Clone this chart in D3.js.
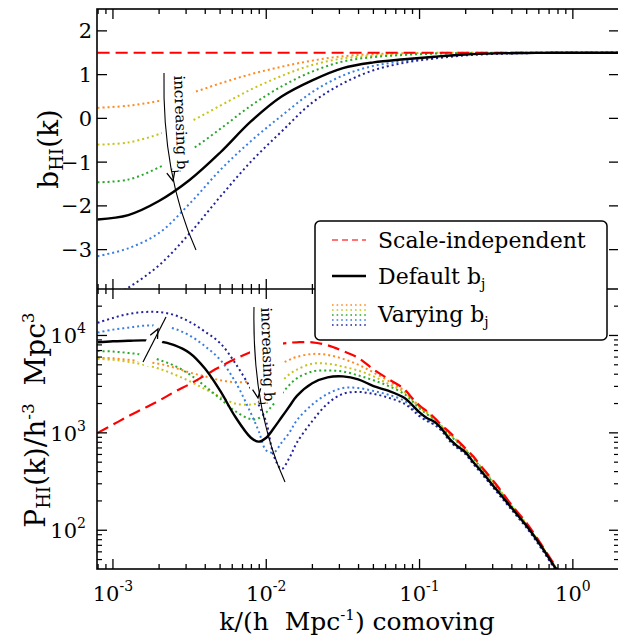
<!DOCTYPE html>
<html><head><meta charset="utf-8">
<script src="https://cdn.jsdelivr.net/npm/d3@7/dist/d3.min.js"></script>
<style>body{margin:0;background:#fff}svg{display:block}text{font-family:"DejaVu Serif",serif;fill:#000}</style>
</head><body><svg id="c" width="618" height="635"></svg>
<script>
// ---------- data ----------
// top panel: log10 k grid and b_HI(k)
const logkTop = [-3.1,-2.9,-2.7,-2.5,-2.3,-2.1,-1.9,-1.7,-1.5,-1.3,-1.1,-0.9,-0.7,-0.5,-0.3,-0.1,0.1,0.3];
const bScaleIndep = [1.5,1.5,1.5,1.5,1.5,1.5,1.5,1.5,1.5,1.5,1.5,1.5,1.5,1.5,1.5,1.5,1.5,1.5];
const bDefault = [-2.31,-2.21,-1.89,-1.41,-0.78,-0.07,0.50,0.87,1.15,1.28,1.35,1.41,1.46,1.485,1.495,1.5,1.5,1.5];
const bOrange  = [0.24,0.29,0.40,0.57,0.80,1.01,1.18,1.32,1.42,1.47,1.49,1.497,1.5,1.5,1.5,1.5,1.5,1.5];
const bYellow  = [-0.60,-0.55,-0.36,-0.08,0.29,0.66,0.97,1.22,1.37,1.43,1.47,1.49,1.497,1.5,1.5,1.5,1.5,1.5];
const bGreen   = [-1.46,-1.40,-1.12,-0.74,-0.24,0.29,0.73,1.07,1.30,1.40,1.45,1.48,1.49,1.497,1.5,1.5,1.5,1.5];
const bBlue    = [-3.15,-2.97,-2.62,-1.95,-1.18,-0.52,0.06,0.60,0.98,1.20,1.31,1.39,1.45,1.48,1.495,1.5,1.5,1.5];
const bNavy    = [-4.25,-3.87,-3.36,-2.63,-1.79,-0.99,-0.30,0.36,0.80,1.10,1.27,1.37,1.44,1.475,1.49,1.5,1.5,1.5];

// bottom panel: log10 k grid and log10 P_HI(k)
const logkBot = [-3.1,-3.0,-2.9,-2.8,-2.7,-2.6,-2.5,-2.4,-2.3,-2.2,-2.1,-2.05,-2.0,-1.95,-1.9,-1.85,-1.8,-1.7,-1.6,-1.5,-1.4,-1.3,-1.2,-1.1,-1.05,-1.0,-0.95,-0.9,-0.85,-0.8,-0.75,-0.7,-0.65,-0.6,-0.5,-0.4,-0.3,-0.2,-0.1,0.0];
const logPScaleIndep = [3.00,3.085,3.17,3.25,3.33,3.42,3.50,3.59,3.68,3.76,3.83,3.86,3.88,3.90,3.915,3.925,3.93,3.93,3.90,3.84,3.77,3.65,3.55,3.45,3.36,3.28,3.22,3.15,3.07,3.00,2.92,2.84,2.76,2.66,2.47,2.26,2.07,1.84,1.60,1.39];
const logPDefault = [3.93,3.94,3.945,3.95,3.94,3.90,3.82,3.66,3.43,3.16,2.95,2.91,2.95,3.05,3.16,3.27,3.38,3.51,3.57,3.58,3.55,3.48,3.43,3.36,3.29,3.21,3.15,3.11,3.03,2.93,2.86,2.80,2.70,2.61,2.42,2.23,2.04,1.82,1.58,1.37];
const logPOrange = [3.77,3.765,3.75,3.73,3.71,3.67,3.62,3.58,3.54,3.52,3.53,3.56,3.60,3.65,3.71,3.75,3.78,3.81,3.80,3.76,3.70,3.62,3.53,3.43,3.35,3.27,3.21,3.14,3.06,2.99,2.91,2.83,2.75,2.65,2.46,2.25,2.06,1.83,1.59,1.38];
const logPYellow = [3.76,3.75,3.73,3.70,3.66,3.60,3.53,3.45,3.37,3.30,3.29,3.31,3.37,3.45,3.53,3.60,3.65,3.71,3.71,3.68,3.64,3.58,3.50,3.42,3.34,3.26,3.20,3.14,3.06,2.98,2.91,2.83,2.75,2.65,2.46,2.25,2.06,1.83,1.59,1.38];
const logPGreen = [3.84,3.835,3.82,3.80,3.75,3.69,3.60,3.48,3.35,3.22,3.14,3.15,3.21,3.30,3.40,3.49,3.56,3.63,3.64,3.63,3.59,3.54,3.48,3.40,3.33,3.25,3.19,3.13,3.05,2.97,2.90,2.82,2.74,2.64,2.45,2.25,2.05,1.83,1.59,1.38];
const logPBlue = [4.03,4.06,4.08,4.10,4.10,4.07,4.00,3.89,3.75,3.52,3.20,3.02,2.82,2.80,2.90,3.00,3.13,3.29,3.40,3.46,3.46,3.43,3.39,3.33,3.26,3.19,3.13,3.09,3.02,2.92,2.85,2.79,2.69,2.60,2.41,2.22,2.03,1.81,1.57,1.36];
const logPNavy = [4.13,4.18,4.22,4.24,4.24,4.21,4.14,4.04,3.92,3.71,3.45,3.29,3.11,2.76,2.63,2.74,2.90,3.12,3.30,3.40,3.42,3.40,3.36,3.30,3.24,3.17,3.12,3.08,3.01,2.91,2.84,2.78,2.68,2.59,2.40,2.21,2.02,1.80,1.56,1.35];

const xMajor = [1e-3,1e-2,1e-1,1];
const xTickLabels = ["-3","-2","-1","0"];
const yTopTicks = [-3,-2,-1,0,1,2];
const yTopLabels = ["\u22123","\u22122","\u22121","0","1","2"];
const yBotMajor = [1e2,1e3,1e4];
const yBotLabels = ["2","3","4"];

const varyColors = ["#ff8a1e","#c8c31a","#2aa82a","#3a7ee0","#23239c"];
const varyTop = [bOrange,bYellow,bGreen,bBlue,bNavy];
const varyBot = [logPOrange,logPYellow,logPGreen,logPBlue,logPNavy];
const legendLabels = ["Scale-independent","Default b","Varying b"];

// ---------- layout ----------
const xL=97, xR=619, yT=9, yM=289, yB=569;
const svg = d3.select("#c");
const x = d3.scaleLog().domain([7.87e-4, 2.0]).range([xL, xR]);
const yTop = d3.scaleLinear().domain([-3.9, 2.5]).range([yM, yT]);
const yBot = d3.scaleLog().domain([40, 3e4]).range([yB, yM]);

const defs = svg.append("defs");
defs.append("clipPath").attr("id","cpT").append("rect").attr("x",xL).attr("y",yT).attr("width",xR-xL).attr("height",yM-yT);
defs.append("clipPath").attr("id","cpB").append("rect").attr("x",xL).attr("y",yM).attr("width",xR-xL).attr("height",yB-yM);

const topRows = vals => logkTop.map((l,i)=>({k:Math.pow(10,l), v:vals[i]}));
const botRows = vals => logkBot.map((l,i)=>({k:Math.pow(10,l), v:Math.pow(10,vals[i])}));
const lineT = d3.line().x(d=>x(d.k)).y(d=>yTop(d.v)).curve(d3.curveCatmullRom.alpha(0.5));
const lineB = d3.line().x(d=>x(d.k)).y(d=>yBot(d.v)).curve(d3.curveCatmullRom.alpha(0.5));

const gT = svg.append("g").attr("clip-path","url(#cpT)");
const gB = svg.append("g").attr("clip-path","url(#cpB)");

// varying (dotted)
varyTop.forEach((s,i)=>gT.append("path").attr("d",lineT(topRows(s))).attr("fill","none")
  .attr("stroke",varyColors[i]).attr("stroke-width",2).attr("stroke-dasharray","2,3"));
varyBot.forEach((s,i)=>gB.append("path").attr("d",lineB(botRows(s))).attr("fill","none")
  .attr("stroke",varyColors[i]).attr("stroke-width",2).attr("stroke-dasharray","2,3"));
// scale independent (red dashed)
gT.append("path").attr("d",lineT(topRows(bScaleIndep))).attr("fill","none").attr("stroke","#ff0000").attr("stroke-width",2.2).attr("stroke-dasharray","12,6");
gB.append("path").attr("d",lineB(botRows(logPScaleIndep))).attr("fill","none").attr("stroke","#ff0000").attr("stroke-width",2.2).attr("stroke-dasharray","12,6");

// white masks behind annotations
svg.append("rect").attr("x",162).attr("y",72).attr("width",31).attr("height",100).attr("fill","#fff");
svg.append("rect").attr("x",250).attr("y",304).attr("width",33).attr("height",98).attr("fill","#fff");
svg.append("line").attr("x1",143).attr("y1",364).attr("x2",166).attr("y2",317).attr("stroke","#fff").attr("stroke-width",15);

// default (black)
gT.append("path").attr("d",lineT(topRows(bDefault))).attr("fill","none").attr("stroke","#000").attr("stroke-width",2.4);
gB.append("path").attr("d",lineB(botRows(logPDefault))).attr("fill","none").attr("stroke","#000").attr("stroke-width",2.4);

// ---------- frame & ticks ----------
const ax = svg.append("g").attr("stroke","#000").attr("fill","none");
ax.append("rect").attr("x",xL).attr("y",yT).attr("width",xR-xL).attr("height",yB-yT).attr("stroke-width",1.6);
ax.append("line").attr("x1",xL).attr("x2",xR).attr("y1",yM).attr("y2",yM).attr("stroke-width",1.6);

const xMinor = [];
[-4,-3,-2,-1,0].forEach(e=>{for(let m=2;m<=9;m++){const v=m*Math.pow(10,e); if(v>x.domain()[0]&&v<x.domain()[1]) xMinor.push(v);}});
function xt(vals,len,y0,dir){vals.forEach(v=>ax.append("line").attr("x1",x(v)).attr("x2",x(v)).attr("y1",y0).attr("y2",y0+dir*len).attr("stroke-width",1.3));}
xt(xMajor,10,yT,1); xt(xMinor,5,yT,1);
xt(xMajor,10,yM,1); xt(xMinor,5,yM,1); xt(xMajor,10,yM,-1); xt(xMinor,5,yM,-1);
xt(xMajor,10,yB,-1); xt(xMinor,5,yB,-1);

yTopTicks.forEach(v=>{
  ax.append("line").attr("x1",xL).attr("x2",xL+10).attr("y1",yTop(v)).attr("y2",yTop(v)).attr("stroke-width",1.3);
  ax.append("line").attr("x1",xR).attr("x2",xR-10).attr("y1",yTop(v)).attr("y2",yTop(v)).attr("stroke-width",1.3);
});
const yMinor=[];
[1,2,3,4].forEach(e=>{for(let m=2;m<=9;m++){const v=m*Math.pow(10,e); if(v>40&&v<3e4) yMinor.push(v);}});
yBotMajor.forEach(v=>{
  ax.append("line").attr("x1",xL).attr("x2",xL+10).attr("y1",yBot(v)).attr("y2",yBot(v)).attr("stroke-width",1.3);
  ax.append("line").attr("x1",xR).attr("x2",xR-10).attr("y1",yBot(v)).attr("y2",yBot(v)).attr("stroke-width",1.3);
});
yMinor.forEach(v=>{
  ax.append("line").attr("x1",xL).attr("x2",xL+5).attr("y1",yBot(v)).attr("y2",yBot(v)).attr("stroke-width",1.2);
  ax.append("line").attr("x1",xR).attr("x2",xR-5).attr("y1",yBot(v)).attr("y2",yBot(v)).attr("stroke-width",1.2);
});

// tick labels
const TL = 21;
yTopTicks.forEach((v,i)=>svg.append("text").attr("x",92).attr("y",yTop(v)).attr("dy","0.36em")
  .attr("text-anchor","end").attr("font-size",TL).text(yTopLabels[i]));
yBotMajor.forEach((v,i)=>{
  const t=svg.append("text").attr("x",86).attr("y",yBot(v)+8).attr("text-anchor","end").attr("font-size",TL);
  t.append("tspan").text("10");
  t.append("tspan").attr("dy",-10).attr("font-size",14).text(yBotLabels[i]);
});
xMajor.forEach((v,i)=>{
  const t=svg.append("text").attr("x",x(v)).attr("y",601).attr("text-anchor","middle").attr("font-size",TL);
  t.append("tspan").text("10");
  t.append("tspan").attr("dy",-10).attr("font-size",14).text(xTickLabels[i]);
});

// axis titles
const xt1 = svg.append("text").attr("x",357).attr("y",630).attr("text-anchor","middle").attr("font-size",25);
xt1.append("tspan").text("k/(h\u00a0\u00a0Mpc");
xt1.append("tspan").attr("dy",-10).attr("font-size",15).text("-1");
xt1.append("tspan").attr("dy",10).text(") comoving");

const yt1 = svg.append("text").attr("transform","translate(58,149) rotate(-90)").attr("text-anchor","middle").attr("font-size",28);
yt1.append("tspan").text("b");
yt1.append("tspan").attr("dy",5).attr("font-size",18).text("HI");
yt1.append("tspan").attr("dy",-5).text("(k)");

const yt2 = svg.append("text").attr("transform","translate(45,420) rotate(-90)").attr("text-anchor","middle").attr("font-size",28);
yt2.append("tspan").text("P");
yt2.append("tspan").attr("dy",5).attr("font-size",18).text("HI");
yt2.append("tspan").attr("dy",-5).text("(k)/h");
yt2.append("tspan").attr("dy",-11).attr("font-size",17).text("-3");
yt2.append("tspan").attr("dy",11).text("\u00a0\u00a0Mpc");
yt2.append("tspan").attr("dy",-11).attr("font-size",17).text("3");

// ---------- annotations ----------
function chevron(tx,ty,dx,dy){
  const a=Math.atan2(dy,dx), L=10, h=0.42;
  const p1=[tx-L*Math.cos(a-h), ty-L*Math.sin(a-h)], p2=[tx-L*Math.cos(a+h), ty-L*Math.sin(a+h)];
  svg.append("path").attr("d",`M${p1}L${tx},${ty}L${p2}`).attr("fill","none").attr("stroke","#000").attr("stroke-width",1.3);
}
svg.append("path").attr("d","M164,73 Q162,175 196,250").attr("fill","none").attr("stroke","#000").attr("stroke-width",1.1);
chevron(173,181,0.25,1);
svg.append("path").attr("d","M254,307 Q252,410 285,482").attr("fill","none").attr("stroke","#000").attr("stroke-width",1.1);
chevron(258,398,0.15,1);
svg.append("line").attr("x1",143).attr("y1",362).attr("x2",166).attr("y2",317).attr("stroke","#000").attr("stroke-width",1.2);
chevron(158,329,0.45,-0.89);

function annot(cx,cy){
  const t=svg.append("text").attr("transform",`translate(${cx},${cy}) rotate(88)`).attr("text-anchor","middle").attr("font-size",15).attr("dy","0.35em");
  t.append("tspan").text("increasing b");
  t.append("tspan").attr("dy",4).attr("font-size",10).text("j");
}
annot(181,124);
annot(268,356);

// ---------- legend ----------
const lg = svg.append("g");
lg.append("rect").attr("x",315).attr("y",221).attr("width",292).attr("height",119).attr("rx",5)
  .attr("fill","#fff").attr("stroke","#000").attr("stroke-width",1.5);
lg.append("line").attr("x1",332).attr("x2",366).attr("y1",240).attr("y2",240).attr("stroke","#ff4848").attr("stroke-width",1.6).attr("stroke-dasharray","6,4");
lg.append("line").attr("x1",332).attr("x2",366).attr("y1",276).attr("y2",276).attr("stroke","#000").attr("stroke-width",2.4);
varyColors.forEach((c,i)=>lg.append("line").attr("x1",332).attr("x2",366).attr("y1",305+5*i).attr("y2",305+5*i)
  .attr("stroke",c).attr("stroke-width",1.6).attr("stroke-dasharray","1.6,3"));
const ly=[248,284,322];
legendLabels.forEach((s,i)=>{
  const t=lg.append("text").attr("x",378).attr("y",ly[i]).attr("font-size",22);
  t.append("tspan").text(s);
  if(i>0) t.append("tspan").attr("dy",5).attr("font-size",14).text("j");
});
</script></body></html>
